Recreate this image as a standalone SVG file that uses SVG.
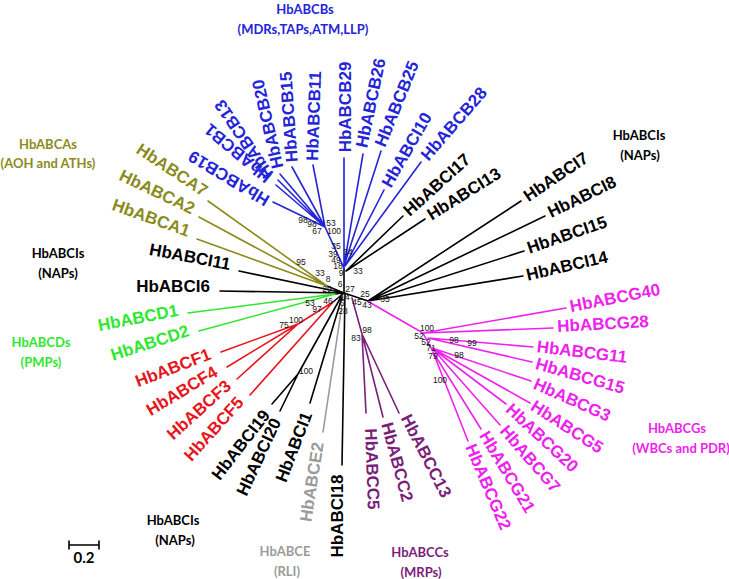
<svg xmlns="http://www.w3.org/2000/svg" width="729" height="579" viewBox="0 0 729 579">
<style>
.e{fill:none;stroke-width:1.6;stroke-linecap:round}
.k{stroke:#000}.b{stroke:#2424d8}.o{stroke:#8b8b1b}.g{stroke:#2ee82e}.r{stroke:#e6161c}.p{stroke:#7a1e7a}.m{stroke:#ee22ee}.y{stroke:#9a9a9a}
.lb{font-family:"Liberation Sans",Arial,sans-serif;font-weight:bold;font-size:17px;text-anchor:middle;dominant-baseline:central}
.t{font-family:Lato,"Liberation Sans",Arial,sans-serif;font-weight:bold;font-size:13px;text-anchor:middle}
.n{font-family:"Liberation Sans",Arial,sans-serif;font-size:8.5px;text-anchor:middle;dominant-baseline:central;fill:#111}
.fb{fill:#2424d8}.fo{fill:#8b8b1b}.fg{fill:#2ee82e}.fr{fill:#e6161c}.fp{fill:#7a1e7a}.fm{fill:#ee22ee}.fy{fill:#9a9a9a}.fk{fill:#000}
</style>
<rect width="729" height="579" fill="#fff"/>
<g id="connectors">
<path class="e k" d="M344,293L344,268M346,271L403,216M346,271L425,219M344,293L368,301M368,301L521,201M368,301L545,216M368,301L524,251M368,301L523,276M239,271L344,293M220,291L344,293M327,286L344,293M335,294L344,293M333,302L344,293M298,374L341,297M298,374L272,404M298,374L280,411M310,403L342,297M342,465L345,293"/>
<path class="e y" d="M323,432L342,305"/>
<path class="e b" d="M325,227L344,268M325,227L273,202M325,227L276,185M325,227L278,180M325,227L280,174M325,227L292,167M325,227L313,165M344,266L344,158M344,266L363,154M344,266L381,151M345,266L384,190M345,266L421,162"/>
<path class="e o" d="M327,286L208,201M327,286L199,217M327,286L197,239"/>
<path class="e g" d="M335,294L188,313M335,294L199,331"/>
<path class="e r" d="M298,324L221,352M298,324L227,367M298,324L237,379M298,324L333,302M250,395L333,302"/>
<path class="e p" d="M352,298L362,334M362,334L366,413M362,334L383,417M362,334L399,413"/>
<path class="e m" d="M369,302L423,333M423,333L566,308M423,333L553,328M423,333L432,350M428,338L533,347M428,338L532,362M432,348L531,381M432,348L530,403M432,348L506,404M432,348L500,425M433,352L481,429M433,352L468,441"/>
<path class="e k" d="M69,545H99M69,541V549M99,541V549"/>
</g>
<g id="HbABCB19"><text class="lb fb" transform="translate(229,178) rotate(-149)">HbABCB19</text></g>
<g id="HbABCB1"><text class="lb fb" transform="translate(238,153) rotate(-140)">HbABCB1</text></g>
<g id="HbABCB13"><text class="lb fb" transform="translate(244,139) rotate(-124)">HbABCB13</text></g>
<g id="HbABCB20"><text class="lb fb" transform="translate(268,124) rotate(-103)">HbABCB20</text></g>
<g id="HbABCB15"><text class="lb fb" transform="translate(289,117) rotate(-94)">HbABCB15</text></g>
<g id="HbABCB11"><text class="lb fb" transform="translate(314,116) rotate(-88)">HbABCB11</text></g>
<g id="HbABCB29"><text class="lb fb" transform="translate(345,107) rotate(-90)">HbABCB29</text></g>
<g id="HbABCB26"><text class="lb fb" transform="translate(371,103) rotate(-78)">HbABCB26</text></g>
<g id="HbABCB25"><text class="lb fb" transform="translate(397,104) rotate(-68)">HbABCB25</text></g>
<g id="HbABCI10"><text class="lb fb" transform="translate(407,150) rotate(-60)">HbABCI10</text></g>
<g id="HbABCB28"><text class="lb fb" transform="translate(454,124) rotate(-49)">HbABCB28</text></g>
<g id="HbABCI17"><text class="lb fk" transform="translate(437,185) rotate(-42)">HbABCI17</text></g>
<g id="HbABCI13"><text class="lb fk" transform="translate(464,194) rotate(-32)">HbABCI13</text></g>
<g id="HbABCI7"><text class="lb fk" transform="translate(556,177) rotate(-34)">HbABCI7</text></g>
<g id="HbABCI8"><text class="lb fk" transform="translate(582,197) rotate(-26)">HbABCI8</text></g>
<g id="HbABCI15"><text class="lb fk" transform="translate(567,235) rotate(-19)">HbABCI15</text></g>
<g id="HbABCI14"><text class="lb fk" transform="translate(567,266) rotate(-13)">HbABCI14</text></g>
<g id="HbABCG40"><text class="lb fm" transform="translate(615,298) rotate(-11)">HbABCG40</text></g>
<g id="HbABCG28"><text class="lb fm" transform="translate(603,324) rotate(-3)">HbABCG28</text></g>
<g id="HbABCG11"><text class="lb fm" transform="translate(582,352) rotate(7)">HbABCG11</text></g>
<g id="HbABCG15"><text class="lb fm" transform="translate(580,376) rotate(16)">HbABCG15</text></g>
<g id="HbABCG3"><text class="lb fm" transform="translate(572,400) rotate(24)">HbABCG3</text></g>
<g id="HbABCG5"><text class="lb fm" transform="translate(567,427) rotate(33)">HbABCG5</text></g>
<g id="HbABCG20"><text class="lb fm" transform="translate(542,438) rotate(43)">HbABCG20</text></g>
<g id="HbABCG7"><text class="lb fm" transform="translate(530,459) rotate(49)">HbABCG7</text></g>
<g id="HbABCG21"><text class="lb fm" transform="translate(507,472) rotate(59)">HbABCG21</text></g>
<g id="HbABCG22"><text class="lb fm" transform="translate(488,487) rotate(67)">HbABCG22</text></g>
<g id="HbABCC5"><text class="lb fp" transform="translate(372,469) rotate(88)">HbABCC5</text></g>
<g id="HbABCC2"><text class="lb fp" transform="translate(397,462) rotate(75)">HbABCC2</text></g>
<g id="HbABCC13"><text class="lb fp" transform="translate(426,456) rotate(63)">HbABCC13</text></g>
<g id="HbABCI18"><text class="lb fk" transform="translate(337,516) rotate(-90)">HbABCI18</text></g>
<g id="HbABCE2"><text class="lb fy" transform="translate(312,482) rotate(-81)">HbABCE2</text></g>
<g id="HbABCI1"><text class="lb fk" transform="translate(294,447) rotate(-69)">HbABCI1</text></g>
<g id="HbABCI20"><text class="lb fk" transform="translate(259,457) rotate(-65)">HbABCI20</text></g>
<g id="HbABCI19"><text class="lb fk" transform="translate(241,445) rotate(-52)">HbABCI19</text></g>
<g id="HbABCF5"><text class="lb fr" transform="translate(214,429) rotate(-48)">HbABCF5</text></g>
<g id="HbABCF3"><text class="lb fr" transform="translate(199,410) rotate(-42)">HbABCF3</text></g>
<g id="HbABCF4"><text class="lb fr" transform="translate(182,391) rotate(-31)">HbABCF4</text></g>
<g id="HbABCF1"><text class="lb fr" transform="translate(173,368) rotate(-21)">HbABCF1</text></g>
<g id="HbABCD2"><text class="lb fg" transform="translate(150,343) rotate(-18)">HbABCD2</text></g>
<g id="HbABCD1"><text class="lb fg" transform="translate(138,318) rotate(-11)">HbABCD1</text></g>
<g id="HbABCI6"><text class="lb fk" transform="translate(173,286)">HbABCI6</text></g>
<g id="HbABCI11"><text class="lb fk" transform="translate(190,257) rotate(10.6)">HbABCI11</text></g>
<g id="HbABCA1"><text class="lb fo" transform="translate(151,218) rotate(19.6)">HbABCA1</text></g>
<g id="HbABCA2"><text class="lb fo" transform="translate(157,192) rotate(25.5)">HbABCA2</text></g>
<g id="HbABCA7"><text class="lb fo" transform="translate(172,170) rotate(33.5)">HbABCA7</text></g>
<g id="bootstrap">
<text class="n" x="303" y="220">98</text><text class="n" x="312" y="224">98</text><text class="n" x="317" y="231">67</text><text class="n" x="331" y="223">53</text><text class="n" x="334" y="231">100</text>
<text class="n" x="336" y="246">35</text><text class="n" x="333" y="254">39</text><text class="n" x="336" y="260">49</text><text class="n" x="338" y="266">18</text><text class="n" x="341" y="273">9</text><text class="n" x="348" y="252">34</text><text class="n" x="358" y="271">33</text>
<text class="n" x="301" y="262">95</text><text class="n" x="320" y="273">33</text><text class="n" x="328" y="279">8</text>
<text class="n" x="340" y="284">6</text><text class="n" x="350" y="289">27</text><text class="n" x="327" y="289">29</text><text class="n" x="310" y="303">53</text><text class="n" x="328" y="301">46</text><text class="n" x="317" y="309">97</text><text class="n" x="296" y="320">100</text><text class="n" x="284" y="325">75</text>
<text class="n" x="345" y="297">14</text><text class="n" x="342" y="303">6</text><text class="n" x="343" y="311">28</text>
<text class="n" x="365" y="294">25</text><text class="n" x="357" y="302">45</text><text class="n" x="367" y="305">43</text><text class="n" x="385" y="299">35</text>
<text class="n" x="367" y="330">98</text><text class="n" x="356" y="338">83</text><text class="n" x="306" y="371">100</text>
<text class="n" x="427" y="328">100</text><text class="n" x="419" y="336">52</text><text class="n" x="426" y="342">52</text><text class="n" x="431" y="348">71</text><text class="n" x="433" y="356">79</text>
<text class="n" x="454" y="340">98</text><text class="n" x="472" y="343">99</text><text class="n" x="459" y="355">98</text><text class="n" x="440" y="380">100</text>
</g>
<g id="title-B"><text class="t fb" x="305" y="14">HbABCBs</text><text class="t fb" x="303" y="34">(MDRs,TAPs,ATM,LLP)</text></g>
<g id="title-A"><text class="t fo" x="48" y="149">HbABCAs</text><text class="t fo" x="48" y="168">(AOH and ATHs)</text></g>
<g id="title-I-left"><text class="t fk" x="58" y="258">HbABCIs</text><text class="t fk" x="58" y="278">(NAPs)</text></g>
<g id="title-I-right"><text class="t fk" x="639" y="140">HbABCIs</text><text class="t fk" x="640" y="160">(NAPs)</text></g>
<g id="title-D"><text class="t fg" x="41" y="347">HbABCDs</text><text class="t fg" x="41" y="367">(PMPs)</text></g>
<g id="title-I-bottom"><text class="t fk" x="173" y="525">HbABCIs</text><text class="t fk" x="175" y="545">(NAPs)</text></g>
<g id="title-E"><text class="t fy" x="285" y="556">HbABCE</text><text class="t fy" x="287" y="576">(RLI)</text></g>
<g id="title-C"><text class="t fp" x="420" y="557">HbABCCs</text><text class="t fp" x="421" y="577">(MRPs)</text></g>
<g id="title-G"><text class="t fm" x="677" y="433">HbABCGs</text><text class="t fm" x="681" y="453">(WBCs and PDR)</text></g>
<g id="scale"><text class="t fk" x="84" y="563" style="font-size:15px">0.2</text></g>
</svg>
